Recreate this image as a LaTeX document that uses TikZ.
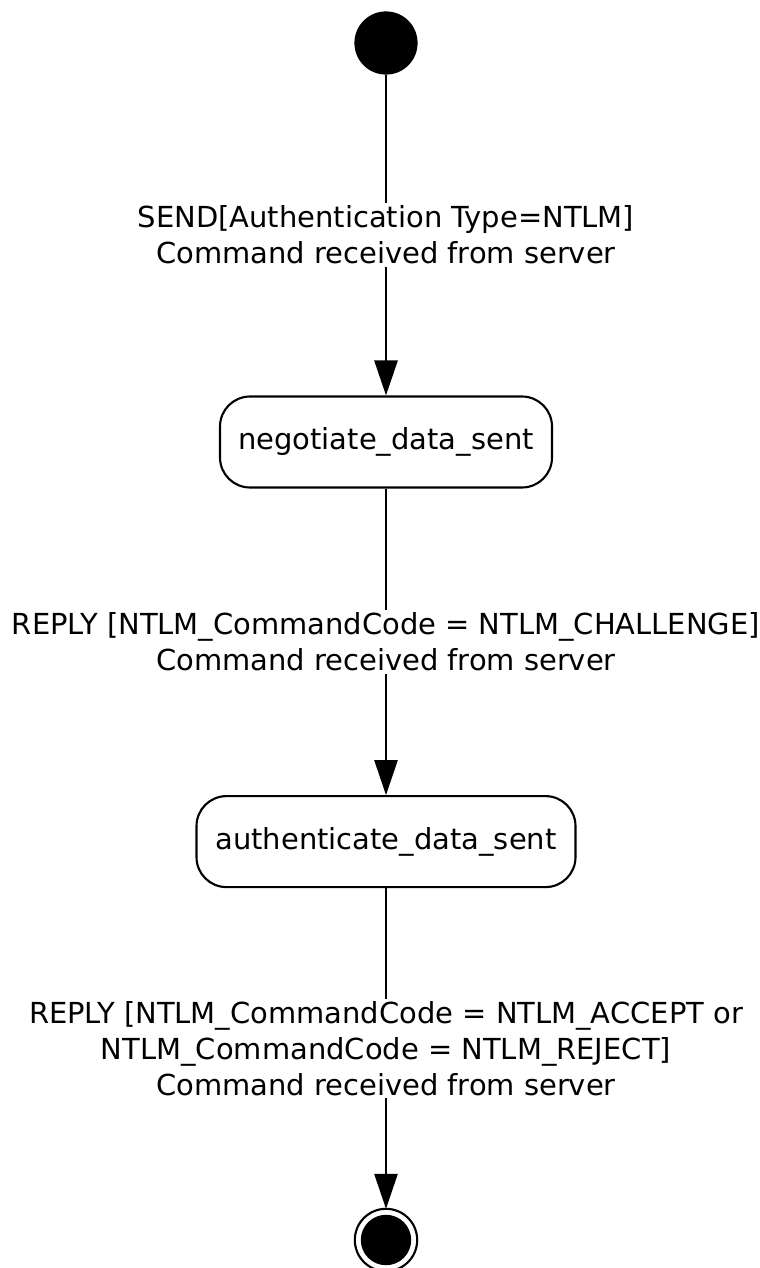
\documentclass[tikz,border=0pt]{standalone}
\usepackage{fontspec}
\setmainfont{DejaVu Sans}
\usetikzlibrary{arrows.meta}

\tikzset{
  state/.style={draw, line width=1.5pt, rounded corners=0.75cm, minimum height=2.275cm, align=center},
  trans/.style={line width=1.5pt, -{Triangle[length=0.875cm, width=0.58cm]}},
  guard/.style={fill=white, align=center, inner sep=2pt},
}

\begin{document}
\begin{tikzpicture}[font=\fontsize{20.6}{25.5}\selectfont]

  \useasboundingbox (0,0) rectangle (19,-31.7);

  \fill (9.65,-1.075) circle (0.79);
  \coordinate (start) at (9.65,-1.865);

  \node[state, minimum width=8.3cm] (negotiate) at (9.65,-11.05) {negotiate\_data\_sent};
  \node[state, minimum width=9.475cm] (authenticate) at (9.65,-21.04) {authenticate\_data\_sent};

  \draw[line width=1.5pt] (9.65,-31.0) circle (0.78);
  \fill (9.65,-31.0) circle (0.63);
  \coordinate (stop) at (9.65,-30.22);

  \draw[trans] (start) -- (negotiate.north)
    node[guard, midway] {SEND[Authentication Type=NTLM]\\Command received from server};
  \draw[trans] (negotiate) -- (authenticate)
    node[guard, midway] {REPLY [NTLM\_CommandCode = NTLM\_CHALLENGE]\\Command received from server};
  \draw[trans] (authenticate) -- (stop)
    node[guard, midway] {REPLY [NTLM\_CommandCode = NTLM\_ACCEPT or\\NTLM\_CommandCode = NTLM\_REJECT]\\Command received from server};

\end{tikzpicture}
\end{document}
